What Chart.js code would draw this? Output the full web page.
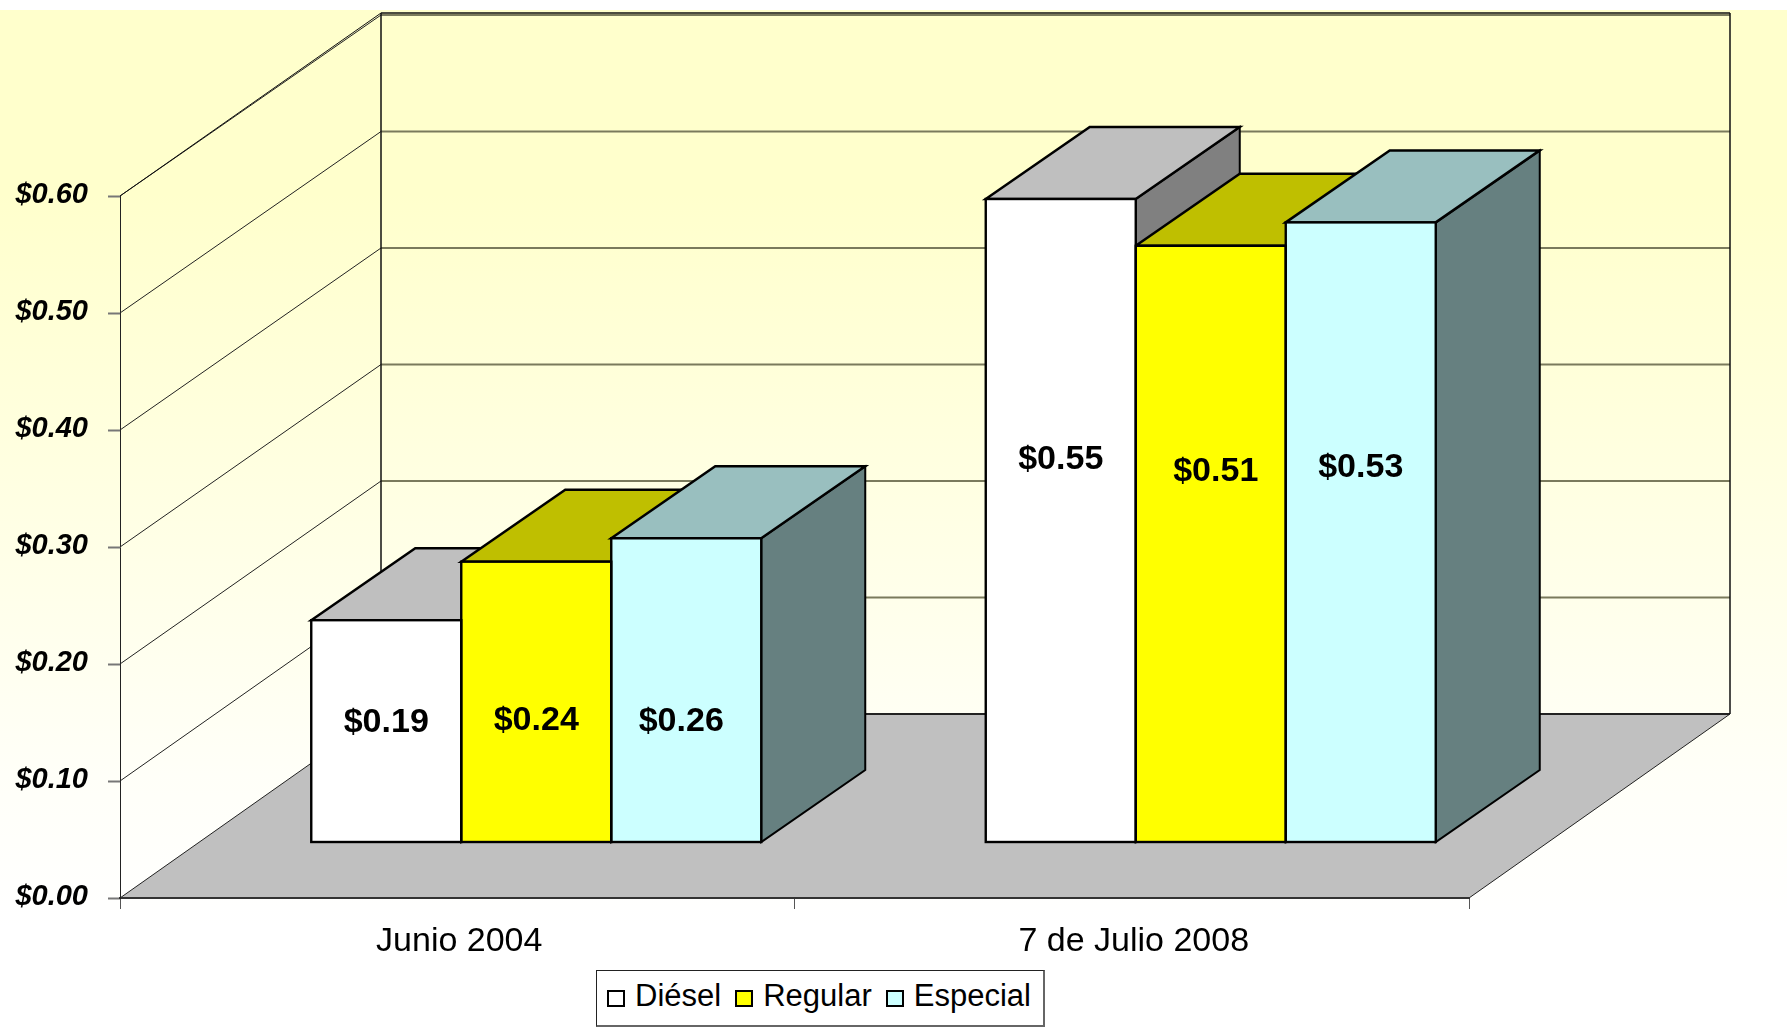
<!DOCTYPE html>
<html>
<head>
    <meta charset="utf-8">
    <title>Diésel, Regular y Especial</title>
    <script src="https://cdn.jsdelivr.net/npm/chart.js"></script>
    <style>
        body {
            margin: 0;
            background: #ffffff;
            font-family: "Liberation Sans", Arial, sans-serif;
        }
        #chartContainer {
            position: relative;
            width: 1787px;
            height: 1030px;
            overflow: hidden;
        }
        #legend {
            position: absolute;
            left: 596px;
            top: 970px;
            width: 449px;
            height: 57px;
            box-sizing: border-box;
            border: 1px solid #222222;
            border-bottom: 2px solid #666666;
            border-right: 2px solid #666666;
            background: #ffffff;
            display: flex;
            align-items: center;
            padding-left: 10px;
            padding-bottom: 4px;
            font-size: 31px;
            color: #000000;
        }
        .legend-item {
            display: flex;
            align-items: center;
            margin-right: 14px;
        }
        .legend-swatch {
            width: 18px;
            height: 17px;
            box-sizing: border-box;
            border: 2px solid #000000;
            margin-right: 10px;
            margin-top: 4px;
        }
    </style>
</head>
<body>

    <div id="chartContainer">
        <canvas id="fuelChart" width="1787" height="1030"></canvas>
        <div id="legend"></div>
    </div>

    <script>
        // Chart values
        const categories = ['Junio 2004', '7 de Julio 2008'];
        const seriesNames = ['Diésel', 'Regular', 'Especial'];
        const dieselValues = [0.19, 0.55];
        const regularValues = [0.24, 0.51];
        const especialValues = [0.26, 0.53];
        const seriesColors = ['#FFFFFF', '#FFFF00', '#CCFFFF'];

        // Oblique projection of the 3D box (pixels)
        const wallDx = 261;
        const wallDy = 184;
        const wallShrink = 699 / 702; // back wall ticks are a touch closer than the front ones
        const barDx = 104;
        const barDy = 72;
        const barShiftX = 79;  // bars stand forward on the floor
        const barShiftY = -55.5;

        // Hand-placed data labels, relative to the middle of each front face [series][category]
        const labelNudge = [
            [[0, -8], [0, -61]],
            [[0, 19], [5, -72]],
            [[-5, 31], [0, -65]]
        ];

        function shade(hex, f) {
            const n = parseInt(hex.slice(1), 16);
            const r = Math.round((n >> 16 & 255) * f);
            const g = Math.round((n >> 8 & 255) * f);
            const b = Math.round((n & 255) * f);
            return `rgb(${r},${g},${b})`;
        }

        function poly(ctx, pts, fill, stroke, lineWidth) {
            ctx.beginPath();
            pts.forEach((p, i) => i ? ctx.lineTo(p[0], p[1]) : ctx.moveTo(p[0], p[1]));
            ctx.closePath();
            if (fill) {
                ctx.fillStyle = fill;
                ctx.fill();
            }
            if (stroke) {
                ctx.strokeStyle = stroke;
                ctx.lineWidth = lineWidth;
                ctx.stroke();
            }
        }

        function line(ctx, x1, y1, x2, y2, color, lineWidth) {
            ctx.beginPath();
            ctx.moveTo(x1, y1);
            ctx.lineTo(x2, y2);
            ctx.strokeStyle = color;
            ctx.lineWidth = lineWidth;
            ctx.stroke();
        }

        // Background, walls and floor
        const wallsPlugin = {
            id: 'walls',
            beforeDraw(chart) {
                const ctx = chart.ctx;
                const area = chart.chartArea;
                const yScale = chart.scales.y;
                const zeroY = yScale.getPixelForValue(0);
                const backY = (y) => zeroY - wallDy - (zeroY - y) * wallShrink;

                ctx.save();
                const grad = ctx.createLinearGradient(0, 10, 0, 1030);
                grad.addColorStop(0, '#FFFFCC');
                grad.addColorStop(0.18, '#FFFFCC');
                grad.addColorStop(0.75, '#FFFFF8');
                grad.addColorStop(0.9, '#FFFFFF');
                ctx.fillStyle = grad;
                ctx.fillRect(0, 10, chart.width, chart.height - 10);

                // floor
                poly(ctx, [
                    [area.left, zeroY],
                    [area.right, zeroY],
                    [area.right + wallDx, zeroY - wallDy],
                    [area.left + wallDx, zeroY - wallDy]
                ], '#C0C0C0', '#222222', 1);

                // gridlines running along both walls
                yScale.ticks.forEach((t) => {
                    const y = yScale.getPixelForValue(t.value);
                    const by = backY(y);
                    if (t.value > 0) {
                        line(ctx, area.left, y, area.left + wallDx, by, '#222222', 1);
                        line(ctx, area.left + wallDx, by, area.right + wallDx, by, '#7A7A5C', 2);
                    }
                });
                line(ctx, area.left + wallDx, zeroY - wallDy, area.right + wallDx, zeroY - wallDy, '#222222', 2);

                // wall outline
                const topY = area.top - wallDy + 1;
                line(ctx, area.left, area.top, area.left + wallDx, topY, '#111111', 1);
                line(ctx, area.left + wallDx, topY, area.right + wallDx, topY, '#111111', 1.5);
                line(ctx, area.left + wallDx, topY, area.left + wallDx, zeroY - wallDy, '#111111', 1.5);
                line(ctx, area.right + wallDx, topY, area.right + wallDx, zeroY - wallDy, '#111111', 1.5);
                ctx.restore();
            }
        };

        // Top and side faces of the bars, the fronts are the library's own bars
        const boxPlugin = {
            id: 'boxes',
            beforeDatasetsDraw(chart) {
                const ctx = chart.ctx;
                ctx.save();
                ctx.translate(barShiftX, barShiftY);
                chart.data.datasets.forEach((ds, i) => {
                    chart.getDatasetMeta(i).data.forEach((bar) => {
                        const l = bar.x - bar.width / 2;
                        const r = bar.x + bar.width / 2;
                        poly(ctx, [[r, bar.y], [r + barDx, bar.y - barDy], [r + barDx, bar.base - barDy], [r, bar.base]],
                            shade(seriesColors[i], 0.5), '#000000', 2);
                        poly(ctx, [[l, bar.y], [l + barDx, bar.y - barDy], [r + barDx, bar.y - barDy], [r, bar.y]],
                            shade(seriesColors[i], 0.75), '#000000', 2.5);
                    });
                });
            },
            afterDatasetsDraw(chart) {
                const ctx = chart.ctx;
                // outline over the fronts, centred on the edges
                chart.data.datasets.forEach((ds, i) => {
                    chart.getDatasetMeta(i).data.forEach((bar) => {
                        ctx.strokeStyle = '#000000';
                        ctx.lineWidth = 2.4;
                        ctx.strokeRect(bar.x - bar.width / 2, bar.y, bar.width, bar.base - bar.y);
                    });
                });
                ctx.restore();
                ctx.save();
                ctx.font = 'bold 34px "Liberation Sans"';
                ctx.fillStyle = '#000000';
                ctx.textAlign = 'center';
                ctx.textBaseline = 'middle';
                chart.data.datasets.forEach((ds, i) => {
                    chart.getDatasetMeta(i).data.forEach((bar, j) => {
                        const nudge = labelNudge[i][j];
                        const midY = (bar.y + bar.base) / 2;
                        ctx.fillText('$' + ds.data[j].toFixed(2), bar.x + barShiftX + nudge[0], midY + barShiftY + nudge[1]);
                    });
                });
                ctx.restore();
            }
        };

        const config = {
            type: 'bar',
            data: {
                labels: categories,
                datasets: [dieselValues, regularValues, especialValues].map((values, i) => ({
                    label: seriesNames[i],
                    data: values,
                    backgroundColor: seriesColors[i],
                    borderWidth: 0,
                    categoryPercentage: 450 / 674.5,
                    barPercentage: 1
                }))
            },
            options: {
                responsive: false,
                animation: false,
                layout: {
                    padding: { top: 196, right: 318, left: 0, bottom: 0 }
                },
                plugins: {
                    legend: { display: false },
                    title: { display: false },
                    tooltip: { enabled: false }
                },
                scales: {
                    x: {
                        offset: true,
                        afterFit(scale) { scale.height = 132; },
                        grid: {
                            offset: true,
                            drawOnChartArea: false,
                            drawTicks: true,
                            tickLength: 11,
                            tickColor: '#555555',
                            tickWidth: 1
                        },
                        border: { color: '#333333', width: 2 },
                        ticks: {
                            color: '#000000',
                            padding: 12,
                            labelOffset: 2,
                            maxRotation: 0,
                            font: { family: '"Liberation Sans"', size: 34 }
                        }
                    },
                    y: {
                        min: 0,
                        max: 0.6,
                        afterFit(scale) { scale.width = 120; },
                        grid: {
                            drawOnChartArea: false,
                            drawTicks: true,
                            tickLength: 12,
                            tickColor: '#777777',
                            tickWidth: 2
                        },
                        border: { color: '#222222', width: 1 },
                        ticks: {
                            stepSize: 0.1,
                            color: '#000000',
                            padding: 20,
                            labelOffset: -1,
                            font: { family: '"Liberation Sans"', size: 29, weight: 'bold', style: 'italic' },
                            callback: (v) => '$' + v.toFixed(2)
                        }
                    }
                }
            },
            plugins: [wallsPlugin, boxPlugin]
        };

        new Chart(document.getElementById('fuelChart').getContext('2d'), config);

        // Legend box under the chart
        const legendBox = document.getElementById('legend');
        seriesNames.forEach((name, i) => {
            const item = document.createElement('div');
            item.className = 'legend-item';
            const swatch = document.createElement('span');
            swatch.className = 'legend-swatch';
            swatch.style.background = seriesColors[i];
            const text = document.createElement('span');
            text.innerText = name;
            item.appendChild(swatch);
            item.appendChild(text);
            legendBox.appendChild(item);
        });
    </script>
</body>
</html>
